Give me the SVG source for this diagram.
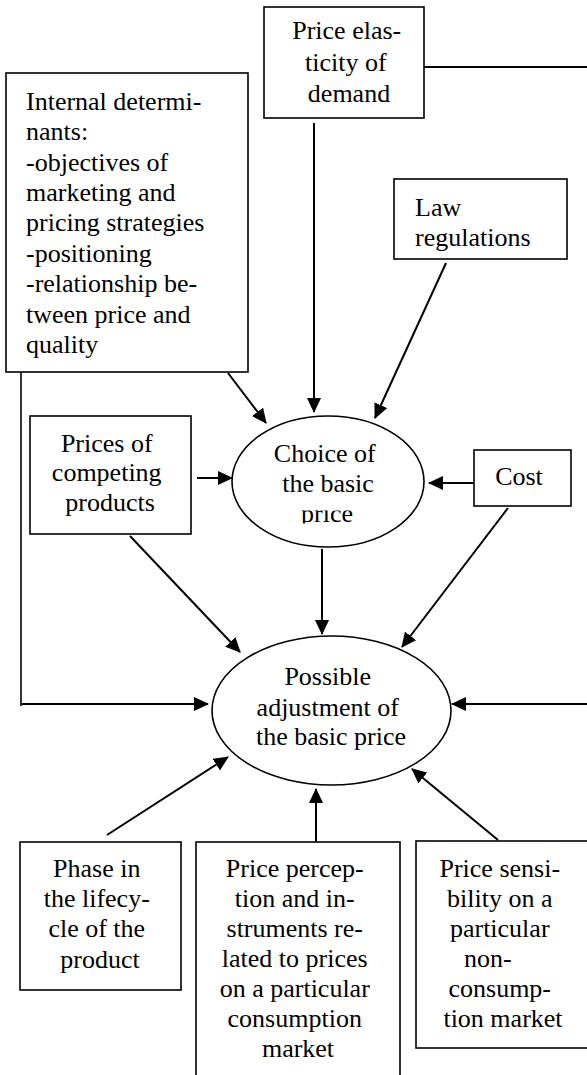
<svg xmlns="http://www.w3.org/2000/svg" width="587" height="1075" viewBox="0 0 587 1075">
  <style>
    .box { fill: #ffffff; stroke: #000000; stroke-width: 1.6; }
    .oval { fill: #ffffff; stroke: #000000; stroke-width: 1.6; }
    .lbl { font-family: "Liberation Serif", "Times New Roman", serif; font-size: 26px; fill: #000000; }
    .mid { text-anchor: middle; }
    .wire { fill: none; stroke: #000000; stroke-width: 2; }
    .thin { fill: none; stroke: #000000; stroke-width: 1.6; }
    .arrow { fill: none; stroke: #000000; stroke-width: 2; marker-end: url(#head); }
  </style>
  <defs>
    <marker id="head" viewBox="0 0 15 14" refX="14" refY="7" markerWidth="15" markerHeight="14" markerUnits="userSpaceOnUse" orient="auto">
      <path d="M0,0 L15,7 L0,14 z" fill="#000000"/>
    </marker>
    <!-- the last line of the oval label sits in a short text frame -->
    <clipPath id="choiceClip">
      <rect x="280" y="510.5" width="100" height="13"/>
    </clipPath>
  </defs>

  <rect width="587" height="1075" fill="#ffffff"/>

  <!-- connectors -->
  <g id="connectors">
    <line class="wire" x1="424" y1="67" x2="587" y2="67"/>
    <line class="arrow" x1="314" y1="123" x2="314" y2="412"/>
    <line class="arrow" x1="446" y1="263" x2="375" y2="418"/>
    <line class="arrow" x1="228" y1="373" x2="266" y2="423"/>
    <line class="arrow" x1="197" y1="478" x2="232" y2="478"/>
    <line class="arrow" x1="474" y1="483" x2="429" y2="483"/>
    <line class="arrow" x1="322" y1="549" x2="322" y2="634"/>
    <line class="arrow" x1="130" y1="536" x2="240" y2="652"/>
    <line class="arrow" x1="508" y1="508" x2="402" y2="647"/>
    <polyline class="thin" points="21,372 21,706"/>
    <line class="arrow" x1="22" y1="704" x2="208" y2="704"/>
    <line class="arrow" x1="587" y1="704" x2="452" y2="704"/>
    <line class="arrow" x1="107" y1="835" x2="228" y2="757"/>
    <line class="arrow" x1="316" y1="842" x2="316" y2="789"/>
    <line class="arrow" x1="498" y1="840" x2="412" y2="769"/>
  </g>

  <g id="internal-determinants">
    <rect class="box" x="6" y="73" width="242" height="299"/>
    <text class="lbl" x="26">
      <tspan x="26" y="110">Internal determi-</tspan>
      <tspan x="26" y="140">nants:</tspan>
      <tspan x="26" y="171">-objectives of</tspan>
      <tspan x="26" y="201">marketing and</tspan>
      <tspan x="26" y="231">pricing strategies</tspan>
      <tspan x="26" y="262">-positioning</tspan>
      <tspan x="26" y="292">-relationship be-</tspan>
      <tspan x="26" y="323">tween price and</tspan>
      <tspan x="26" y="353">quality</tspan>
    </text>
  </g>

  <g id="price-elasticity">
    <rect class="box" x="264" y="7" width="160" height="111"/>
    <text class="lbl mid">
      <tspan x="350" y="39">Price elas-</tspan>
      <tspan x="349" y="71">ticity of</tspan>
      <tspan x="349" y="102">demand</tspan>
    </text>
  </g>

  <g id="law-regulations">
    <rect class="box" x="394" y="179" width="173" height="80"/>
    <text class="lbl">
      <tspan x="415" y="216">Law</tspan>
      <tspan x="415" y="246">regulations</tspan>
    </text>
  </g>

  <g id="prices-competing">
    <rect class="box" x="30" y="416" width="161" height="118"/>
    <text class="lbl mid">
      <tspan x="110" y="452">Prices of</tspan>
      <tspan x="110" y="481">competing</tspan>
      <tspan x="110" y="511">products</tspan>
    </text>
  </g>

  <g id="choice-basic-price">
    <ellipse class="oval" cx="328" cy="481.5" rx="96" ry="65.5"/>
    <text class="lbl mid">
      <tspan x="328" y="462">Choice of</tspan>
      <tspan x="328" y="492">the basic</tspan>
    </text>
    <text class="lbl mid" x="327" y="522" clip-path="url(#choiceClip)">price</text>
  </g>

  <g id="cost">
    <rect class="box" x="474" y="450" width="97" height="56"/>
    <text class="lbl mid" x="519" y="485">Cost</text>
  </g>

  <g id="possible-adjustment">
    <ellipse class="oval" cx="331.5" cy="710.5" rx="119.5" ry="74.5"/>
    <text class="lbl mid">
      <tspan x="331" y="685">Possible</tspan>
      <tspan x="331" y="716">adjustment of</tspan>
      <tspan x="331" y="745">the basic price</tspan>
    </text>
  </g>

  <g id="lifecycle-phase">
    <rect class="box" x="20" y="842" width="161" height="148"/>
    <text class="lbl mid">
      <tspan x="100" y="877">Phase in</tspan>
      <tspan x="100" y="907">the lifecy-</tspan>
      <tspan x="100" y="937">cle of the</tspan>
      <tspan x="100" y="968">product</tspan>
    </text>
  </g>

  <g id="price-perception">
    <rect class="box" x="196" y="842" width="204" height="250"/>
    <text class="lbl mid">
      <tspan x="298" y="877">Price percep-</tspan>
      <tspan x="298" y="907">tion and in-</tspan>
      <tspan x="298" y="937">struments re-</tspan>
      <tspan x="298" y="967">lated to prices</tspan>
      <tspan x="298" y="997">on a particular</tspan>
      <tspan x="298" y="1027">consumption</tspan>
      <tspan x="298" y="1057">market</tspan>
    </text>
  </g>

  <g id="price-sensibility">
    <rect class="box" x="416" y="841" width="190" height="207"/>
    <text class="lbl mid">
      <tspan x="503" y="877">Price sensi-</tspan>
      <tspan x="503" y="907">bility on a</tspan>
      <tspan x="503" y="937">particular</tspan>
      <tspan x="491" y="967">non-</tspan>
      <tspan x="503" y="997">consump-</tspan>
      <tspan x="503" y="1027">tion market</tspan>
    </text>
  </g>
</svg>
